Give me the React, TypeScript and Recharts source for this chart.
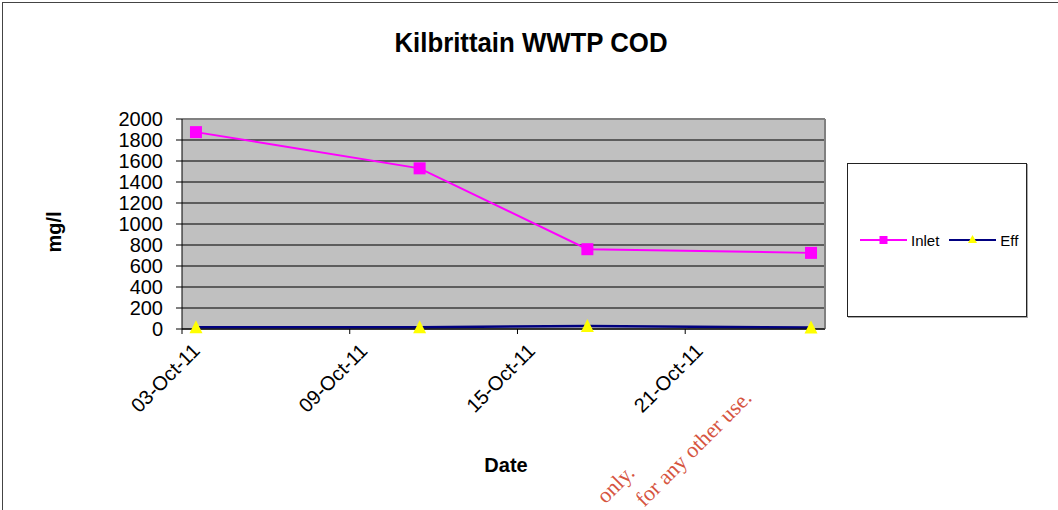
import React from 'react';
import { LineChart, Line, XAxis, YAxis, CartesianGrid, Legend, ReferenceLine } from 'recharts';

const dates = ['03-Oct-11', '11-Oct-11', '17-Oct-11', '25-Oct-11'];
const inlet = [1875, 1530, 760, 725];
const eff = [17, 17, 28, 15];
const seriesNames = ['Inlet', 'Eff'];
const dateTicks = ['03-Oct-11', '09-Oct-11', '15-Oct-11', '21-Oct-11'];
const yTicks = [0, 200, 400, 600, 800, 1000, 1200, 1400, 1600, 1800, 2000];
const axisStart = '03-Oct-11';
const axisEnd = '26-Oct-11';

const FONT = '"Liberation Sans", Arial, sans-serif';
const SERIF = '"Liberation Serif", "Times New Roman", serif';

// all dates fall in the same month, so the day number is enough
const dayOf = (d: string) => parseInt(d.slice(0, 2), 10);
const day0 = dayOf(axisStart);
const tickDays = dateTicks.map((d) => dayOf(d) - day0);

const data = dates.map((d, i) => ({
  day: dayOf(d) - day0 + 0.5,
  Inlet: inlet[i],
  Eff: eff[i],
}));

const SquareDot = ({ cx, cy }: any) => (
  <rect x={cx - 6} y={cy - 6} width={12} height={12} fill="#ff00ff" />
);

const TriangleDot = ({ cx, cy }: any) => (
  <polygon points={`${cx},${cy - 7} ${cx + 6.5},${cy + 6} ${cx - 6.5},${cy + 6}`} fill="#ffff00" />
);

const DateTick = ({ x, y, payload }: any) => {
  const ax = x + 19;
  const ay = y + 16;
  const label = dateTicks[tickDays.indexOf(payload.value)];
  return (
    <text
      x={ax}
      y={ay}
      transform={`rotate(-45, ${ax}, ${ay})`}
      textAnchor="end"
      fontSize={20}
      fontFamily={FONT}
      fill="#000"
    >
      {label}
    </text>
  );
};

const LegendBox = ({ payload }: any) => {
  const items = [...(payload || [])].sort(
    (a: any, b: any) => seriesNames.indexOf(a.value) - seriesNames.indexOf(b.value)
  );
  return (
    <div
      style={{
        width: '100%',
        height: '100%',
        boxSizing: 'border-box',
        border: '1px solid #222',
        boxShadow: '1px 1px 0 #aaa',
        background: '#fff',
        display: 'flex',
        alignItems: 'center',
        paddingLeft: 12,
        fontFamily: FONT,
        fontSize: 15,
        color: '#000',
      }}
    >
      {items.map((p: any) => {
        const isInlet = p.value === 'Inlet';
        return (
          <div key={p.value} style={{ display: 'flex', alignItems: 'center', marginRight: 10 }}>
            <svg width={47} height={14}>
              <line x1={0} y1={7} x2={47} y2={7} stroke={isInlet ? '#ff00ff' : '#000080'} strokeWidth={2} />
              {isInlet ? (
                <rect x={19.5} y={3} width={8} height={8} fill="#ff00ff" />
              ) : (
                <polygon points="23.5,2 28,10 19,10" fill="#ffff00" />
              )}
            </svg>
            <span style={{ marginLeft: 4 }}>{p.value}</span>
          </div>
        );
      })}
    </div>
  );
};

export default function App() {
  return (
    <div style={{ position: 'absolute', left: 0, top: 0, width: 1058, height: 510, background: '#fff', overflow: 'hidden' }}>
      <div
        style={{
          position: 'absolute',
          left: 2,
          top: 2,
          width: 1100,
          height: 600,
          borderLeft: '1px solid #444',
          borderTop: '1px solid #444',
        }}
      />
      <LineChart
        width={1058}
        height={510}
        data={data}
        margin={{ top: 119, right: 233, bottom: 151, left: 0 }}
        style={{ position: 'absolute', left: 0, top: 0 }}
      >
        <CartesianGrid
          horizontal
          vertical={false}
          fill="#c0c0c0"
          fillOpacity={1}
          stroke="#3c3c3c"
          strokeWidth={1.3}
          horizontalValues={yTicks}
        />
        <ReferenceLine y={2000} stroke="#808080" strokeWidth={2} />
        <ReferenceLine x={dayOf(axisEnd) - day0} stroke="#808080" strokeWidth={2} />
        <XAxis
          type="number"
          dataKey="day"
          domain={[0, dayOf(axisEnd) - day0]}
          ticks={tickDays}
          tick={<DateTick />}
          tickSize={5}
          tickMargin={2}
          height={30}
          axisLine={{ stroke: '#000', strokeWidth: 1 }}
          tickLine={{ stroke: '#000' }}
          allowDataOverflow
        />
        <YAxis
          type="number"
          domain={[0, 2000]}
          ticks={yTicks}
          width={182}
          tickSize={6}
          tickMargin={13}
          axisLine={{ stroke: '#000', strokeWidth: 1 }}
          tickLine={{ stroke: '#000' }}
          tick={{ fontSize: 20, fill: '#000', fontFamily: FONT }}
          interval={0}
        />
        <Legend
          layout="horizontal"
          align="center"
          verticalAlign="middle"
          content={<LegendBox />}
          wrapperStyle={{ left: 847, top: 163, width: 180, height: 154 }}
        />
        <Line
          dataKey="Inlet"
          stroke="#ff00ff"
          strokeWidth={2}
          dot={<SquareDot />}
          activeDot={false}
          isAnimationActive={false}
        />
        <Line
          dataKey="Eff"
          stroke="#000080"
          strokeWidth={2.5}
          dot={<TriangleDot />}
          activeDot={false}
          isAnimationActive={false}
        />
      </LineChart>
      <svg
        width={1058}
        height={510}
        style={{ position: 'absolute', left: 0, top: 0, pointerEvents: 'none' }}
      >
        <text
          x={531}
          y={52}
          textAnchor="middle"
          fontSize={28}
          fontWeight="bold"
          fontFamily={FONT}
          textLength={273}
          lengthAdjust="spacingAndGlyphs"
          fill="#000"
        >
          Kilbrittain WWTP COD
        </text>
        <text
          x={54}
          y={232}
          transform="rotate(-90, 54, 232)"
          textAnchor="middle"
          dominantBaseline="central"
          fontSize={20}
          fontWeight="bold"
          fontFamily={FONT}
          fill="#000"
        >
          mg/l
        </text>
        <text x={506} y={472} textAnchor="middle" fontSize={20} fontWeight="bold" fontFamily={FONT} fill="#000">
          Date
        </text>
        <text
          x={636}
          y={474}
          transform="rotate(-45, 636, 474)"
          textAnchor="end"
          fontSize={22}
          fontFamily={SERIF}
          fill="#d6553f"
        >
          only.
        </text>
        <text
          x={753}
          y={399}
          transform="rotate(-45, 753, 399)"
          textAnchor="end"
          fontSize={22}
          fontFamily={SERIF}
          fill="#d6553f"
        >
          for any other use.
        </text>
      </svg>
    </div>
  );
}
